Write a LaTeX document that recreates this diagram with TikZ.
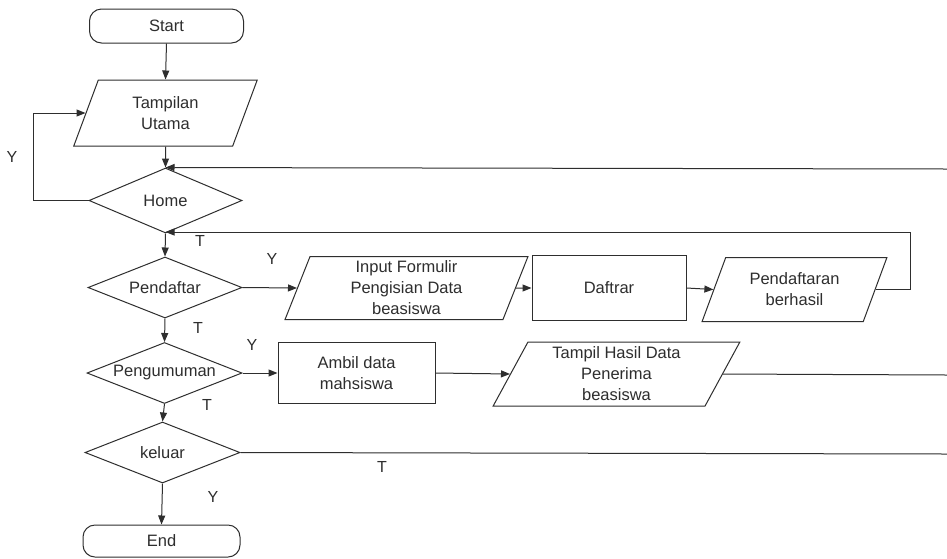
\documentclass[tikz,border=0pt]{standalone}
\usepackage{fontspec}
\setmainfont{Liberation Sans}
\usetikzlibrary{shapes.geometric,arrows.meta}
\definecolor{ink}{HTML}{2E2E2E}
\tikzset{
  base/.style={draw=ink, line width=1pt, text=ink, align=center, inner sep=0pt,
    font=\fontsize{16.5}{21}\selectfont},
  term/.style={base, rectangle, rounded corners=12pt},
  proc/.style={base, rectangle},
  dec/.style={base, diamond, aspect=2.5},
  io/.style={base, trapezium, trapezium stretches=true},
  arr/.style={draw=ink, line width=1pt, -{Triangle[length=9pt,width=7pt]}},
  ln/.style={draw=ink, line width=1pt},
  lbl/.style={text=ink, font=\fontsize{16}{18}\selectfont, inner sep=0pt}
}
\begin{document}
\begin{tikzpicture}[x=1pt,y=-1pt]
\useasboundingbox[fill=white] (0,0) rectangle (947,558);
% nodes
\node[term, minimum width=154pt, minimum height=34pt] (start) at (166.5,26) {Start};
\node[io, trapezium left angle=70, trapezium right angle=110, minimum width=185pt, minimum height=66pt] (tamp) at (165.5,113) {Tampilan\\Utama};
\node[dec, minimum width=153pt, minimum height=65pt] (home) at (165.5,200.5) {Home};
\node[dec, minimum width=154pt, minimum height=61pt] (pend) at (165,287.5) {Pendaftar};
\node[dec, minimum width=155pt, minimum height=61pt] (peng) at (164.5,373) {Pengumuman};
\node[dec, minimum width=155pt, minimum height=61pt] (kel) at (162.5,452.5) {keluar};
\node[term, minimum width=157pt, minimum height=32pt] (end) at (161.5,541) {End};
\node[io, trapezium left angle=75, trapezium right angle=105, minimum width=243pt, minimum height=63pt] (inp) at (406.5,288) {Input Formulir\\Pengisian Data\\beasiswa};
\node[proc, minimum width=154pt, minimum height=65pt] (daf) at (609,288) {Daftrar};
\node[io, trapezium left angle=65, trapezium right angle=115, minimum width=185pt, minimum height=64pt] (pb) at (794.5,289.5) {Pendaftaran\\berhasil};
\node[proc, minimum width=157pt, minimum height=61pt] (amb) at (356.5,373) {Ambil data\\mahsiswa};
\node[io, trapezium left angle=65, trapezium right angle=115, minimum width=247pt, minimum height=64pt] (tampil) at (616.5,374) {Tampil Hasil Data\\Penerima\\beasiswa};
% free ends
\coordinate (rhome) at (947,169);
\coordinate (tloop) at (910,232);
\coordinate (rpeng) at (947,375);
\coordinate (rkel) at (947,454);
% connectors
\draw[arr] (start.south) -- (tamp.north);
\draw[arr] (home.west) -- ++(-55,0) |- (tamp.west);
\draw[arr] (tamp.south) -- (home.north);
\draw[arr] (rhome) -- (home.north);
\draw[arr] (home.south) -- (pend.north);
\draw[arr] (pb.east) -| (tloop) -- (tloop -| home.south);
\draw[arr] (pend.east) -- (inp.west);
\draw[arr] (inp.east) -- (daf.west);
\draw[arr] (daf.east) -- (pb.west);
\draw[arr] (pend.south) -- (peng.north);
\draw[arr] (peng.east) -- (amb.west);
\draw[arr] (amb.east) -- (tampil.west);
\draw[ln] (tampil.east) -- (rpeng);
\draw[arr] (peng.south) -- (kel.north);
\draw[ln] (kel.east) -- (rkel);
\draw[arr] (kel.south) -- (end.north);
% labels
\node[lbl] (ly1) at (12,157) {Y};
\node[lbl] (lt1) at (200,241) {T};
\node[lbl] (ly2) at (272,259) {Y};
\node[lbl] (lt2) at (198,328) {T};
\node[lbl] (ly3) at (252,345) {Y};
\node[lbl] (lt3) at (207,405) {T};
\node[lbl] (lt4) at (382,467) {T};
\node[lbl] (ly4) at (213,497) {Y};
\end{tikzpicture}
\end{document}
